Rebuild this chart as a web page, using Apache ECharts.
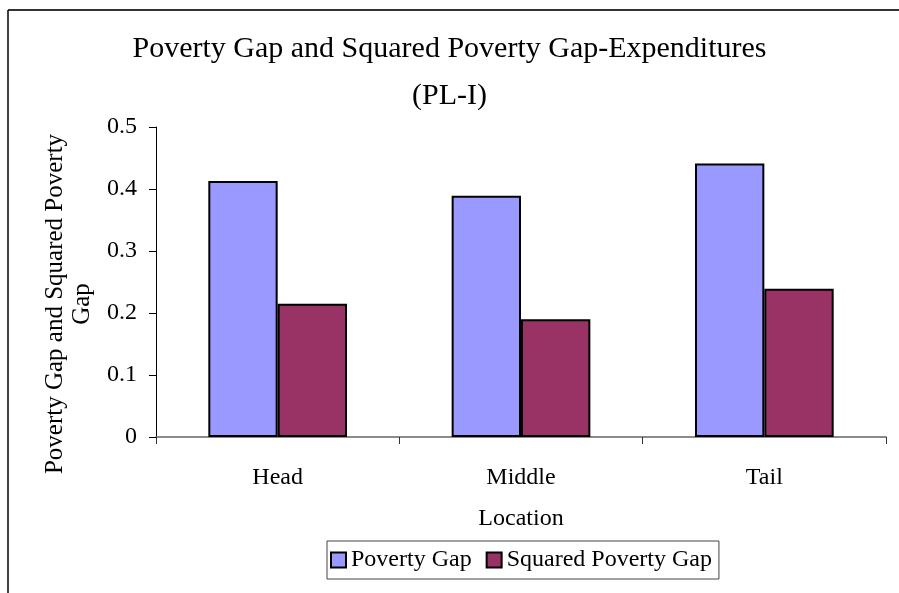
<!DOCTYPE html>
<html>
<head>
<meta charset="utf-8">
<script src="https://cdn.jsdelivr.net/npm/echarts@6/dist/echarts.min.js"></script>
<style>
html,body{margin:0;padding:0;background:#fff;}
#c{width:899px;height:593px;}
</style>
</head>
<body>
<div id="c"></div>
<script>
const categories = ['Head', 'Middle', 'Tail'];
const povertyGap = [0.413, 0.389, 0.441];
const squaredPovertyGap = [0.215, 0.190, 0.239];
const yTicks = [0, 0.1, 0.2, 0.3, 0.4, 0.5];

const font = 'Liberation Serif';
const chart = echarts.init(document.getElementById('c'));
chart.setOption({
  animation: false,
  backgroundColor: '#fff',
  title: {
    text: 'Poverty Gap and Squared Poverty Gap-Expenditures\n(PL-I)',
    left: 'center',
    top: 21,
    textStyle: {fontFamily: font, fontSize: 30, fontWeight: 'normal', color: '#000', lineHeight: 47}
  },
  graphic: [
    {type: 'line', shape: {x1: 8, y1: 10, x2: 899, y2: 10}, style: {stroke: '#333', lineWidth: 2}},
    {type: 'line', shape: {x1: 8, y1: 10, x2: 8, y2: 593}, style: {stroke: '#000', lineWidth: 1.5}}
  ],
  legend: {
    left: 327,
    top: 541,
    borderColor: '#444',
    borderWidth: 1,
    padding: [7, 7, 7, 3],
    itemWidth: 15,
    itemHeight: 15,
    itemGap: 14,
    icon: 'rect',
    textStyle: {fontFamily: font, fontSize: 24, color: '#000'},
    data: ['Poverty Gap', 'Squared Poverty Gap']
  },
  grid: {left: 156, right: 13, top: 127, bottom: 156, containLabel: false},
  xAxis: {
    type: 'category',
    data: categories,
    name: 'Location',
    nameLocation: 'middle',
    nameGap: 70,
    nameTextStyle: {fontFamily: font, fontSize: 24, color: '#000'},
    axisLine: {lineStyle: {color: '#666', width: 1.5}},
    axisTick: {show: true, length: 7, lineStyle: {color: '#333'}},
    axisLabel: {fontFamily: font, fontSize: 24, color: '#000', margin: 29}
  },
  yAxis: {
    type: 'value',
    min: 0,
    max: 0.5,
    interval: 0.1,
    name: 'Poverty Gap and Squared Poverty\nGap',
    nameLocation: 'middle',
    nameRotate: 90,
    nameGap: 60,
    nameTextStyle: {fontFamily: font, fontSize: 25, color: '#000', lineHeight: 27, padding: [0, 44, 0, 0]},
    splitLine: {show: false},
    axisLine: {show: true, lineStyle: {color: '#000', width: 1}},
    axisTick: {show: true, length: 7, lineStyle: {color: '#000'}},
    axisLabel: {
      fontFamily: font, fontSize: 24, color: '#000', margin: 19,
      formatter: function (v) { return yTicks.indexOf(Math.round(v * 10) / 10) >= 0 ? String(Math.round(v * 10) / 10) : ''; }
    }
  },
  series: [
    {
      name: 'Poverty Gap', type: 'bar', data: povertyGap,
      barGap: '0%', barCategoryGap: '43%',
      itemStyle: {color: '#9999FF', borderColor: '#000', borderWidth: 2}
    },
    {
      name: 'Squared Poverty Gap', type: 'bar', data: squaredPovertyGap,
      itemStyle: {color: '#993366', borderColor: '#000', borderWidth: 2}
    }
  ]
});
</script>
</body>
</html>
